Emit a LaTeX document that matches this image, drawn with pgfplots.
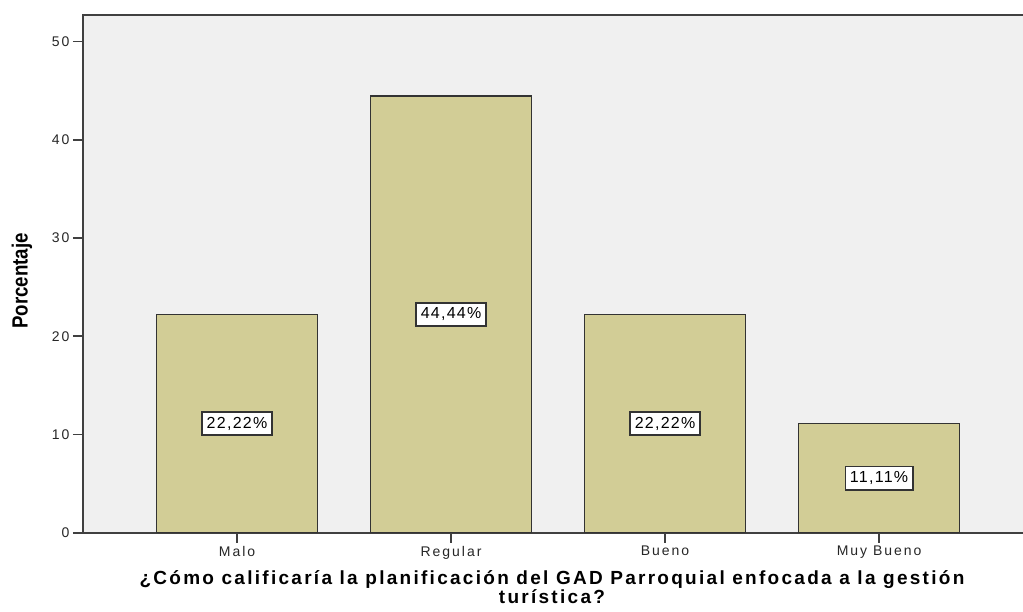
\documentclass[border=0pt]{standalone}
\usepackage{pgfplots}
\pgfplotsset{compat=1.18}
\usepackage{fontspec}
\setmainfont{Liberation Sans}
\newfontfamily\narrowbold[FakeStretch=0.85]{Liberation Sans}
\newfontfamily\spaced[LetterSpace=14]{Liberation Sans}
\newfontfamily\spacedtitle[LetterSpace=12]{Liberation Sans}
\newfontfamily\spacedlab[LetterSpace=8]{Liberation Sans}
\definecolor{barfill}{RGB}{210,205,150}
\definecolor{plotbg}{RGB}{240,240,240}
\begin{document}
\begin{tikzpicture}
\path[use as bounding box] (0,0) rectangle (1023pt,612pt);
\begin{axis}[
  at={(83pt,79.3pt)}, anchor=south west,
  scale only axis,
  width=960pt, height=517.7pt,
  xmin=-0.72, xmax=3.766,
  ymin=0, ymax=52.7,
  axis background/.style={fill=plotbg},
  axis line style={draw=black!75, line width=1.8pt},
  xtick={0,1,2,3},
  xticklabels={Malo,Regular,Bueno,Muy Bueno},
  ytick={0,10,20,30,40,50},
  tick align=outside,
  tick pos=left,
  major tick length=10pt,
  tick style={draw=black!75, line width=1.8pt},
  /pgf/number format/assume math mode=true,
  ticklabel style={font=\fontsize{14}{16}\selectfont\spaced, text=black!85},
  xlabel={¿Cómo calificaría la planificación del GAD Parroquial enfocada a la gestión\\turística?},
  xlabel style={at={(axis description cs:0.4885,0)}, anchor=north, yshift=-38pt, align=center, inner sep=0pt,
    font=\fontsize{19}{14}\selectfont\spacedtitle\bfseries},
  ylabel={Porcentaje},
  ylabel style={at={(axis description cs:-0.0635,0.4865)}, anchor=center, rotate=0,
    font=\fontsize{22}{22}\selectfont\narrowbold\bfseries},
  clip=false,
]
\addplot[ybar, bar width=161pt, fill=barfill, draw=black!80, line width=1.6pt]
  coordinates {(0,22.22) (1,44.44) (2,22.22) (3,11.11)};
\addplot[draw=none, mark=none, nodes near coords, point meta=explicit symbolic,
  nodes near coords style={anchor=center, fill=white, draw=black!80, line width=1.8pt,
    inner xsep=4.5pt, inner ysep=5pt, font=\fontsize{16}{18}\selectfont\spacedlab}]
  coordinates {(0,11.11) [22,22\%] (1,22.22) [44,44\%] (2,11.11) [22,22\%] (3,5.56) [11,11\%]};
\end{axis}
\end{tikzpicture}
\end{document}
